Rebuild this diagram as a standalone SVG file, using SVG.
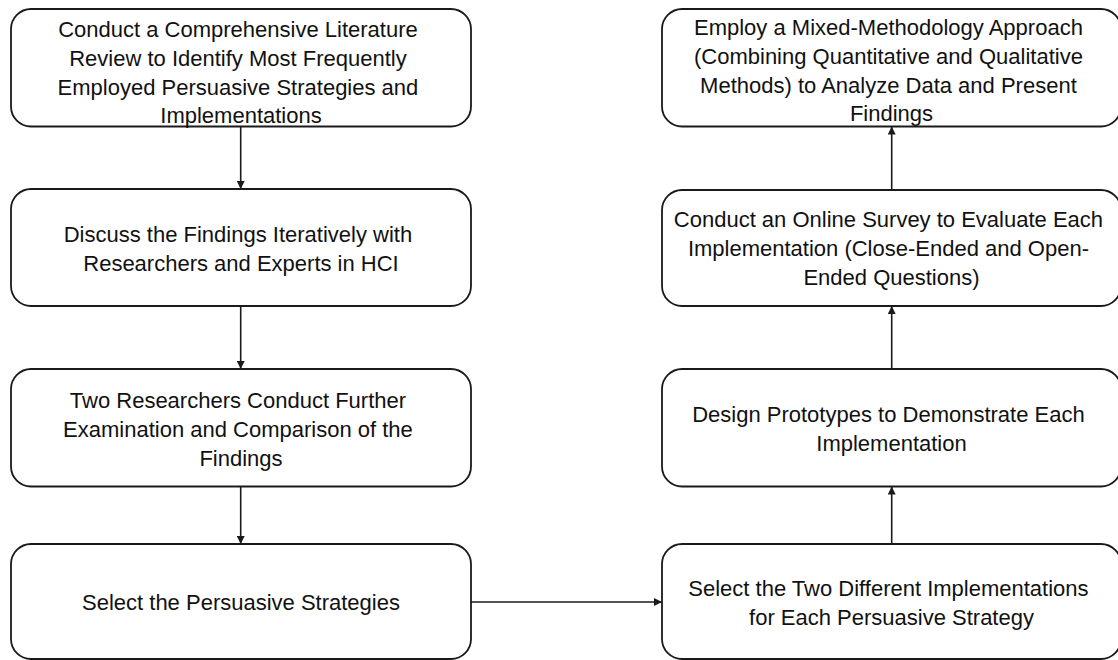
<svg xmlns="http://www.w3.org/2000/svg" width="1118" height="660" viewBox="0 0 1118 660">
  <defs>
    <marker id="arrow" viewBox="0 0 10 10" refX="10" refY="5" markerWidth="8" markerHeight="8" markerUnits="userSpaceOnUse" orient="auto">
      <path d="M0,0 L10,5 L0,10 Z" fill="#1a1a1a"/>
    </marker>
    <style>
      .box { fill: #ffffff; stroke: #1a1a1a; stroke-width: 1.8; }
      .label { font-family: "Liberation Sans", Arial, sans-serif; font-size: 22px; fill: #111111; text-anchor: middle; }
      .edge { stroke: #1a1a1a; stroke-width: 1.6; fill: none; marker-end: url(#arrow); }
    </style>
  </defs>
  <rect width="1118" height="660" fill="#ffffff"/>

  <!-- left column -->
  <g id="literature-review">
    <rect class="box" x="11" y="9" width="460" height="117.5" rx="20" ry="20"/>
    <text class="label">
      <tspan x="241" y="37">Conduct a Comprehensive Literature</tspan>
      <tspan x="241" y="66">Review to Identify Most Frequently</tspan>
      <tspan x="241" y="95">Employed Persuasive Strategies and</tspan>
      <tspan x="241" y="123">Implementations</tspan>
    </text>
  </g>

  <g id="discuss-findings">
    <rect class="box" x="11" y="189" width="460" height="117" rx="20" ry="20"/>
    <text class="label">
      <tspan x="241" y="242">Discuss the Findings Iteratively with</tspan>
      <tspan x="241" y="271">Researchers and Experts in HCI</tspan>
    </text>
  </g>

  <g id="further-examination">
    <rect class="box" x="11" y="369" width="460" height="117.5" rx="20" ry="20"/>
    <text class="label">
      <tspan x="241" y="408">Two Researchers Conduct Further</tspan>
      <tspan x="241" y="437">Examination and Comparison of the</tspan>
      <tspan x="241" y="466">Findings</tspan>
    </text>
  </g>

  <g id="select-strategies">
    <rect class="box" x="11" y="544" width="460" height="115" rx="20" ry="20"/>
    <text class="label">
      <tspan x="241" y="610">Select the Persuasive Strategies</tspan>
    </text>
  </g>

  <!-- right column -->
  <g id="select-implementations">
    <rect class="box" x="662" y="544" width="459" height="115" rx="20" ry="20"/>
    <text class="label">
      <tspan x="891.5" y="596">Select the Two Different Implementations</tspan>
      <tspan x="891.5" y="625">for Each Persuasive Strategy</tspan>
    </text>
  </g>

  <g id="design-prototypes">
    <rect class="box" x="662" y="369" width="459" height="117.5" rx="20" ry="20"/>
    <text class="label">
      <tspan x="891.5" y="422">Design Prototypes to Demonstrate Each</tspan>
      <tspan x="891.5" y="451">Implementation</tspan>
    </text>
  </g>

  <g id="online-survey">
    <rect class="box" x="662" y="190" width="459" height="116" rx="20" ry="20"/>
    <text class="label">
      <tspan x="891.5" y="227">Conduct an Online Survey to Evaluate Each</tspan>
      <tspan x="891.5" y="256">Implementation (Close-Ended and Open-</tspan>
      <tspan x="891.5" y="285">Ended Questions)</tspan>
    </text>
  </g>

  <g id="mixed-methodology">
    <rect class="box" x="662" y="9" width="459" height="117.5" rx="20" ry="20"/>
    <text class="label">
      <tspan x="891.5" y="35">Employ a Mixed-Methodology Approach</tspan>
      <tspan x="891.5" y="64">(Combining Quantitative and Qualitative</tspan>
      <tspan x="891.5" y="93">Methods) to Analyze Data and Present</tspan>
      <tspan x="891.5" y="121">Findings</tspan>
    </text>
  </g>

  <!-- connectors -->
  <g id="connectors">
    <line class="edge" x1="240.7" y1="126.5" x2="240.7" y2="189"/>
    <line class="edge" x1="240.7" y1="306" x2="240.7" y2="369"/>
    <line class="edge" x1="240.7" y1="486.5" x2="240.7" y2="544"/>
    <line class="edge" x1="471" y1="602" x2="662" y2="602"/>
    <line class="edge" x1="891.7" y1="544" x2="891.7" y2="486.5"/>
    <line class="edge" x1="891.7" y1="369" x2="891.7" y2="306"/>
    <line class="edge" x1="891.7" y1="190" x2="891.7" y2="126.5"/>
  </g>
</svg>
